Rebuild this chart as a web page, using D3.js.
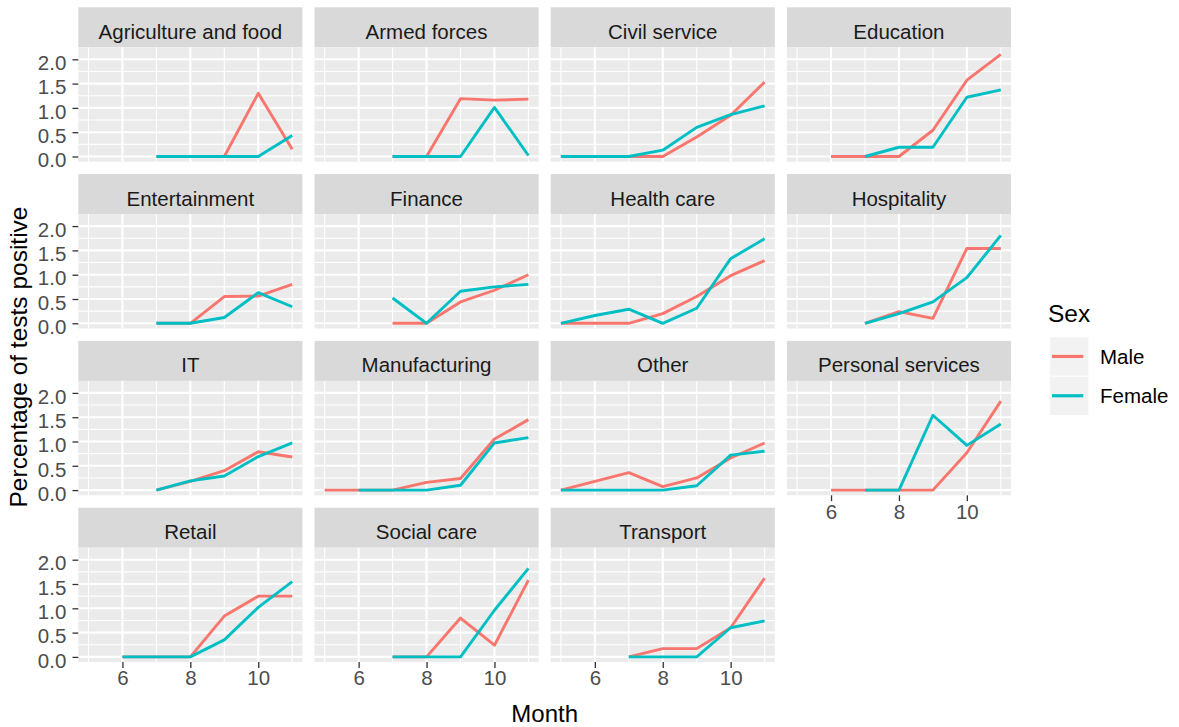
<!DOCTYPE html>
<html>
<head>
<meta charset="utf-8">
<script src="https://cdn.jsdelivr.net/npm/d3@7"></script>
<style>
  html, body { margin: 0; padding: 0; background: #ffffff; }
  svg { display: block; font-family: "Liberation Sans", Arial, sans-serif; }
</style>
</head>
<body>
<svg id="chart" width="1179" height="727"></svg>
<script>
// Monthly share of positive tests by sector, split by sex
const months = [5, 6, 7, 8, 9, 10, 11];

const sectors = [
  "Agriculture and food", "Armed forces", "Civil service", "Education",
  "Entertainment", "Finance", "Health care", "Hospitality",
  "IT", "Manufacturing", "Other", "Personal services",
  "Retail", "Social care", "Transport"
];

// values per month 5..11 (null = no observation)
const maleRates = [
  [null, null, 0, 0, 0, 1.30, 0.15],
  [null, null, 0, 0, 1.19, 1.16, 1.18],
  [0, 0, 0, 0, 0.40, 0.85, 1.53],
  [null, 0, 0, 0, 0.54, 1.57, 2.10],
  [null, null, 0, 0, 0.55, 0.56, 0.80],
  [null, null, 0, 0, 0.44, 0.68, 1.00],
  [0, 0, 0, 0.20, 0.55, 0.98, 1.29],
  [null, null, 0, 0.24, 0.10, 1.54, 1.54],
  [null, null, 0, 0.18, 0.40, 0.79, 0.68],
  [0, 0, 0, 0.16, 0.24, 1.05, 1.45],
  [0, 0.18, 0.36, 0.07, 0.25, 0.66, 0.97],
  [null, 0, 0, 0, 0, 0.77, 1.83],
  [null, 0, 0, 0, 0.84, 1.25, 1.25],
  [null, null, 0, 0, 0.80, 0.24, 1.58],
  [null, null, 0, 0.17, 0.17, 0.60, 1.62]
];

const femaleRates = [
  [null, null, 0, 0, 0, 0, 0.43],
  [null, null, 0, 0, 0, 1.01, 0.02],
  [0, 0, 0, 0.13, 0.60, 0.86, 1.04],
  [null, null, 0, 0.19, 0.19, 1.22, 1.37],
  [null, null, 0, 0, 0.12, 0.63, 0.34],
  [null, null, 0.52, 0, 0.66, 0.75, 0.80],
  [0, 0.16, 0.29, 0, 0.31, 1.33, 1.74],
  [null, null, 0, 0.20, 0.44, 0.94, 1.81],
  [null, null, 0, 0.19, 0.29, 0.69, 0.97],
  [null, 0, 0, 0, 0.10, 0.97, 1.08],
  [0, 0, 0, 0, 0.09, 0.72, 0.80],
  [null, null, 0, 0, 1.54, 0.92, 1.36],
  [null, 0, 0, 0, 0.35, 1.02, 1.55],
  [null, null, 0, 0, 0, 0.96, 1.82],
  [null, null, 0, 0, 0, 0.60, 0.74]
];

const seriesNames = ["Male", "Female"];
const seriesColors = ["#F8766D", "#00BFC4"];

const xTicks = [6, 8, 10];
const xMinor = [5, 7, 9, 11];
const yTicks = [0, 0.5, 1.0, 1.5, 2.0];
const yMinor = [0.25, 0.75, 1.25, 1.75];
const yUpperLimit = 2.14;

// ---- layout ----
const nCols = 4;
const panelLeft0 = 78.3, panelW = 224.1, gapX = 12.1;
const stripTop0 = 7.3, stripH = 40, panelH = 114.4, rowStep = 166.8;
const smallFont = 20.5;

const svg = d3.select("#chart");

// scales shared by all panels (ggplot-style 5% expansion)
const xExt = d3.extent(months);
const xPad = (xExt[1] - xExt[0]) * 0.05;
const x = d3.scaleLinear().domain([xExt[0] - xPad, xExt[1] + xPad]).range([0, panelW]);
const yPad = yUpperLimit * 0.05;
const y = d3.scaleLinear().domain([-yPad, yUpperLimit + yPad]).range([panelH, 0]);

const line = d3.line()
  .defined(d => d[1] !== null)
  .x(d => x(d[0]))
  .y(d => y(d[1]));

sectors.forEach((name, i) => {
  const col = i % nCols, row = Math.floor(i / nCols);
  const left = panelLeft0 + col * (panelW + gapX);
  const stripTop = stripTop0 + row * rowStep;
  const top = stripTop + stripH;

  // strip
  svg.append("rect")
    .attr("x", left).attr("y", stripTop)
    .attr("width", panelW).attr("height", stripH)
    .attr("fill", "#D9D9D9");
  svg.append("text")
    .attr("x", left + panelW / 2).attr("y", stripTop + 31.4)
    .attr("text-anchor", "middle")
    .attr("font-size", smallFont)
    .attr("fill", "#1A1A1A")
    .text(name);

  const g = svg.append("g").attr("transform", `translate(${left},${top})`);
  g.append("rect").attr("width", panelW).attr("height", panelH).attr("fill", "#EBEBEB");

  // minor grid
  g.selectAll(".ymin").data(yMinor).join("line")
    .attr("x1", 0).attr("x2", panelW)
    .attr("y1", d => y(d)).attr("y2", d => y(d))
    .attr("stroke", "#ffffff").attr("stroke-width", 1.1);
  g.selectAll(".xmin").data(xMinor).join("line")
    .attr("y1", 0).attr("y2", panelH)
    .attr("x1", d => x(d)).attr("x2", d => x(d))
    .attr("stroke", "#ffffff").attr("stroke-width", 1.1);
  // major grid
  g.selectAll(".ymaj").data(yTicks).join("line")
    .attr("x1", 0).attr("x2", panelW)
    .attr("y1", d => y(d)).attr("y2", d => y(d))
    .attr("stroke", "#ffffff").attr("stroke-width", 2.1);
  g.selectAll(".xmaj").data(xTicks).join("line")
    .attr("y1", 0).attr("y2", panelH)
    .attr("x1", d => x(d)).attr("x2", d => x(d))
    .attr("stroke", "#ffffff").attr("stroke-width", 2.1);

  // series
  [maleRates[i], femaleRates[i]].forEach((vals, s) => {
    const pts = months.map((m, k) => [m, vals[k]]);
    g.append("path")
      .attr("d", line(pts))
      .attr("fill", "none")
      .attr("stroke", seriesColors[s])
      .attr("stroke-width", 2.9)
      .attr("stroke-linejoin", "round");
  });

  // y axis on the first column
  if (col === 0) {
    const ya = g.append("g").call(
      d3.axisLeft(y).tickValues(yTicks).tickFormat(d3.format(".1f")).tickSize(5.8).tickPadding(6.2)
    );
    ya.select(".domain").remove();
    ya.selectAll(".tick line").attr("stroke", "#333333").attr("stroke-width", 1.3);
    ya.selectAll(".tick text")
      .attr("font-family", "'Liberation Sans', Arial, sans-serif")
      .attr("font-size", smallFont).attr("fill", "#4D4D4D")
      .attr("dy", "0.5em");
  }

  // x axis under the lowest panel of each column
  const lastInCol = i + nCols >= sectors.length;
  if (lastInCol) {
    const xa = g.append("g").attr("transform", `translate(0,${panelH})`).call(
      d3.axisBottom(x).tickValues(xTicks).tickFormat(d3.format("d")).tickSize(5.8).tickPadding(3)
    );
    xa.select(".domain").remove();
    xa.selectAll(".tick line").attr("stroke", "#333333").attr("stroke-width", 1.3);
    xa.selectAll(".tick text")
      .attr("font-family", "'Liberation Sans', Arial, sans-serif")
      .attr("font-size", smallFont).attr("fill", "#4D4D4D");
  }
});

// axis titles
const panelsRight = panelLeft0 + nCols * panelW + (nCols - 1) * gapX;
svg.append("text")
  .attr("x", (panelLeft0 + panelsRight) / 2).attr("y", 722)
  .attr("text-anchor", "middle")
  .attr("font-size", 24).attr("fill", "#000000")
  .text("Month");
svg.append("text")
  .attr("transform", "translate(27,357) rotate(-90)")
  .attr("text-anchor", "middle")
  .attr("font-size", 24.5).attr("fill", "#000000")
  .text("Percentage of tests positive");

// legend
const legX = 1050, legY = 337.3, keySize = 38.3;
svg.append("text")
  .attr("x", 1048).attr("y", 321.5)
  .attr("font-size", 24.5).attr("fill", "#000000")
  .text("Sex");
seriesNames.forEach((nm, s) => {
  const ky = legY + s * (keySize + 1);
  svg.append("rect")
    .attr("x", legX).attr("y", ky)
    .attr("width", keySize).attr("height", keySize)
    .attr("fill", "#F2F2F2");
  svg.append("line")
    .attr("x1", legX + 2).attr("x2", legX + keySize - 5)
    .attr("y1", ky + keySize / 2).attr("y2", ky + keySize / 2)
    .attr("stroke", seriesColors[s]).attr("stroke-width", 3.2);
  svg.append("text")
    .attr("x", 1100).attr("y", ky + keySize / 2 + 7.5)
    .attr("font-size", smallFont).attr("fill", "#000000")
    .text(nm);
});
</script>
</body>
</html>
